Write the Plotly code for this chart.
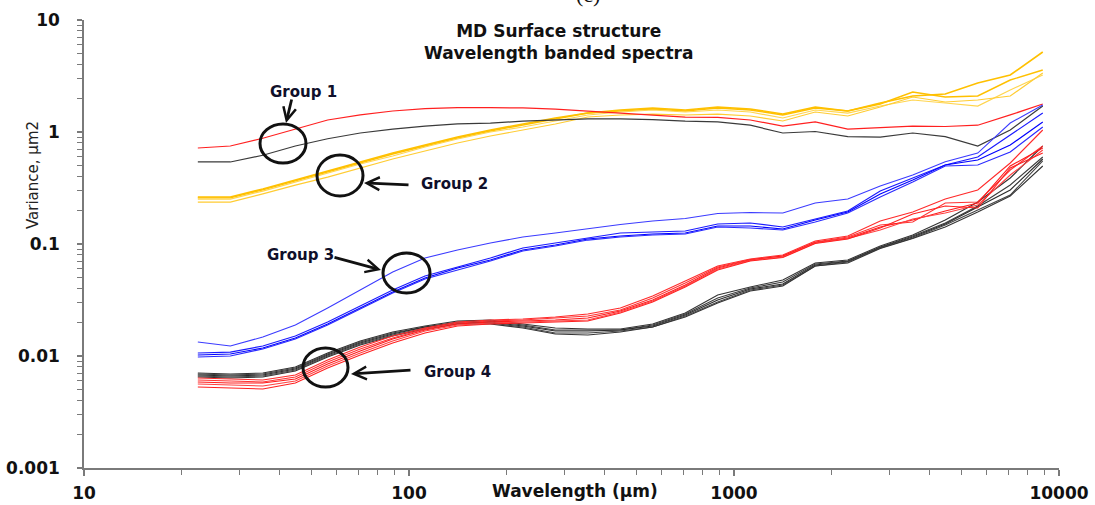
import plotly.graph_objects as go

# ---------------- data ----------------
wavelength = [22.4, 28.2, 35.5, 44.7, 56.2, 70.8, 89.1, 112, 141, 178, 224, 282, 355, 447,
              562, 708, 891, 1122, 1413, 1778, 2239, 2818, 3548, 4467, 5623, 7079, 8913]

g1_red = [0.72, 0.75, 0.88, 1.06, 1.28, 1.42, 1.54, 1.62, 1.65, 1.65, 1.64, 1.60, 1.54, 1.48,
          1.42, 1.36, 1.35, 1.28, 1.13, 1.23, 1.06, 1.09, 1.13, 1.12, 1.15, 1.42, 1.78]
g1_black = [0.54, 0.54, 0.62, 0.75, 0.87, 0.98, 1.06, 1.13, 1.18, 1.20, 1.25, 1.28, 1.31, 1.31,
            1.29, 1.25, 1.23, 1.15, 0.98, 1.01, 0.91, 0.90, 0.98, 0.91, 0.75, 1.04, 1.71]

g2_a = [0.263, 0.263, 0.310, 0.373, 0.449, 0.540, 0.649, 0.765, 0.902, 1.042, 1.179, 1.334, 1.477, 1.572,
        1.638, 1.572, 1.672, 1.605, 1.447, 1.672, 1.540, 1.815, 2.096, 2.184, 2.739, 3.228, 5.18]
g2_b = [0.258, 0.258, 0.304, 0.365, 0.439, 0.529, 0.636, 0.750, 0.884, 1.021, 1.155, 1.306, 1.477, 1.540,
        1.605, 1.540, 1.638, 1.572, 1.418, 1.638, 1.540, 1.778, 2.276, 2.054, 2.096, 2.912, 3.578]
g2_c = [0.252, 0.252, 0.297, 0.358, 0.430, 0.518, 0.611, 0.735, 0.866, 1.000, 1.108, 1.254, 1.418, 1.509,
        1.572, 1.509, 1.572, 1.509, 1.334, 1.572, 1.477, 1.706, 1.931, 1.815, 1.706, 2.371, 3.228]
g2_d = [0.237, 0.237, 0.280, 0.336, 0.396, 0.477, 0.574, 0.677, 0.798, 0.921, 1.042, 1.179, 1.361, 1.418,
        1.447, 1.418, 1.447, 1.390, 1.254, 1.509, 1.390, 1.672, 2.054, 1.853, 1.931, 2.096, 3.363]

g3_u = [0.01334, 0.01228, 0.01477, 0.01891, 0.02683, 0.03885, 0.05623, 0.07499, 0.08842, 0.1021, 0.1155,
        0.1254, 0.1375, 0.1493, 0.1605, 0.1689, 0.1872, 0.1911, 0.1891, 0.2323, 0.2522, 0.3295, 0.4130,
        0.543, 0.649, 1.203, 1.742]
g3_l1 = [0.01064, 0.01085, 0.01228, 0.01509, 0.02011, 0.02795, 0.03885, 0.05179, 0.06231, 0.07499, 0.09211,
         0.1021, 0.1131, 0.1254, 0.1280, 0.1306, 0.1509, 0.1540, 0.1418, 0.1672, 0.1971, 0.2972, 0.3885,
         0.5074, 0.5980, 0.9402, 1.477]
g3_l2 = [0.01021, 0.01042, 0.01179, 0.01448, 0.01931, 0.02683, 0.03728, 0.04970, 0.06105, 0.07197, 0.08842,
         0.0980, 0.1108, 0.1179, 0.1228, 0.1254, 0.1448, 0.1448, 0.1361, 0.1638, 0.1931, 0.2795, 0.3728,
         0.5074, 0.5623, 0.7655, 1.228]
g3_l3 = [0.0098, 0.0100, 0.01155, 0.01418, 0.01891, 0.02628, 0.03652, 0.04870, 0.05857, 0.07051, 0.08660,
         0.0960, 0.1085, 0.1155, 0.1203, 0.1228, 0.1418, 0.1389, 0.1334, 0.1572, 0.1891, 0.2628, 0.3577,
         0.4970, 0.5074, 0.6627, 1.108]

g4_red1 = [0.00636, 0.00623, 0.00611, 0.00677, 0.00921, 0.01203, 0.01509, 0.01778, 0.02011, 0.02096, 0.02140,
           0.02229, 0.02371, 0.02683, 0.03433, 0.04673, 0.06362, 0.07345, 0.07977, 0.1064, 0.1179, 0.1605,
           0.1931, 0.2522, 0.3035, 0.529, 1.042]
g4_red2 = [0.00611, 0.00598, 0.00586, 0.00649, 0.00884, 0.01155, 0.01448, 0.01742, 0.01971, 0.02054, 0.02096,
           0.02184, 0.02276, 0.02575, 0.03295, 0.04485, 0.06231, 0.07270, 0.07812, 0.1042, 0.1155, 0.1477,
           0.1572, 0.2323, 0.2371, 0.4578, 0.750]
g4_red3 = [0.00586, 0.00574, 0.00574, 0.00623, 0.00848, 0.01108, 0.01418, 0.01707, 0.01931, 0.02011, 0.02054,
           0.02096, 0.02184, 0.02522, 0.03162, 0.04304, 0.06105, 0.07197, 0.07812, 0.1031, 0.1131, 0.1418,
           0.1638, 0.1971, 0.2323, 0.497, 0.720]
g4_red4 = [0.00562, 0.00551, 0.00540, 0.00598, 0.00814, 0.01064, 0.01361, 0.01672, 0.01891, 0.01971, 0.02011,
           0.02054, 0.02096, 0.02471, 0.03098, 0.04217, 0.05980, 0.07124, 0.07655, 0.1021, 0.1119, 0.1334,
           0.1672, 0.1891, 0.2229, 0.413, 0.691]
g4_red5 = [0.00529, 0.00518, 0.00507, 0.00574, 0.00781, 0.01021, 0.01306, 0.01605, 0.01853, 0.01931, 0.01971,
           0.02011, 0.02054, 0.02420, 0.03035, 0.04130, 0.05857, 0.07051, 0.07576, 0.1010, 0.1108, 0.1389,
           0.1853, 0.2184, 0.2096, 0.477, 0.649]

g4_blk1 = [0.00705, 0.00691, 0.00705, 0.00798, 0.01064, 0.01361, 0.01638, 0.01853, 0.02054, 0.02096, 0.01931,
           0.01778, 0.01742, 0.01742, 0.01931, 0.02420, 0.03504, 0.04130, 0.04771, 0.06767, 0.07197, 0.0960,
           0.1203, 0.1638, 0.2371, 0.3885, 0.750]
g4_blk2 = [0.00691, 0.00677, 0.00691, 0.00781, 0.01042, 0.01334, 0.01605, 0.01815, 0.02011, 0.02054, 0.01891,
           0.01707, 0.01707, 0.01707, 0.01891, 0.02371, 0.03295, 0.04046, 0.04578, 0.06629, 0.07051, 0.09402,
           0.1179, 0.1540, 0.2184, 0.3363, 0.598]
g4_blk3 = [0.00677, 0.00663, 0.00677, 0.00766, 0.01021, 0.01306, 0.01572, 0.01815, 0.01971, 0.02011, 0.01853,
           0.01672, 0.01672, 0.01707, 0.01853, 0.02323, 0.03162, 0.03963, 0.04394, 0.06494, 0.06980, 0.09306,
           0.1155, 0.1509, 0.2140, 0.3035, 0.574]
g4_blk4 = [0.00663, 0.00649, 0.00663, 0.00750, 0.0100, 0.01280, 0.01540, 0.01778, 0.01971, 0.01971, 0.01815,
           0.01605, 0.01605, 0.01672, 0.01815, 0.02276, 0.03035, 0.03885, 0.04304, 0.06362, 0.06907, 0.09211,
           0.1131, 0.1477, 0.2011, 0.2738, 0.551]
g4_blk5 = [0.00649, 0.00636, 0.00649, 0.00735, 0.0098, 0.01254, 0.01509, 0.01742, 0.01931, 0.01931, 0.01778,
           0.01572, 0.01540, 0.01638, 0.01815, 0.02229, 0.02972, 0.03805, 0.04217, 0.06362, 0.06767, 0.09119,
           0.1119, 0.1418, 0.1931, 0.2683, 0.497]

x_tick_vals = [10, 100, 1000, 10000]
x_tick_text = ["10", "100", "1000", "10000"]
y_tick_vals = [0.001, 0.01, 0.1, 1, 10]
y_tick_text = ["0.001", "0.01", "0.1", "1", "10"]

group_labels = ["Group 1", "Group 2", "Group 3", "Group 4"]
title_text = "MD Surface structure<br>Wavelength banded spectra"
x_title = "Wavelength (µm)"
y_title = "Variance, µm2"

# ---------------- figure ----------------
W, H = 1095, 505
ML, MR, MT, MB = 84, 36, 20, 37
PW, PH = W - ML - MR, H - MT - MB


def px(x):
    return (x - ML) / PW


def py(y):
    return (H - MB - y) / PH


fig = go.Figure()

series = [
    (g2_a, "#FFC000", 1.6), (g2_b, "#FFC000", 1.4), (g2_c, "#FFD54F", 1.2), (g2_d, "#FFCC33", 1.2),
    (g1_black, "#3a3a3a", 1.2), (g1_red, "#FF2020", 1.2),
    (g3_u, "#3b3bff", 1.1), (g3_l1, "#1a1aff", 1.2), (g3_l2, "#0000ff", 1.2), (g3_l3, "#2a2aff", 1.2),
    (g4_blk1, "#333333", 1.1), (g4_blk2, "#3d3d3d", 1.1), (g4_blk3, "#2a2a2a", 1.1),
    (g4_blk4, "#444444", 1.1), (g4_blk5, "#333333", 1.1),
    (g4_red1, "#ff2a2a", 1.1), (g4_red2, "#ff3333", 1.1), (g4_red3, "#ff1a1a", 1.1),
    (g4_red4, "#ff4040", 1.1), (g4_red5, "#ff2020", 1.1),
]
for ys, col, w in series:
    fig.add_trace(go.Scatter(x=wavelength, y=ys, mode="lines",
                             line=dict(color=col, width=w), hoverinfo="skip"))

minor_x = [m * d for d in (10, 100, 1000) for m in range(2, 10)]
minor_y = [m * d for d in (0.001, 0.01, 0.1, 1) for m in range(2, 10)]

axis_col = "#7a7a7a"
tick_font = dict(family="DejaVu Sans", size=17, color="#111111", weight="bold")

fig.update_xaxes(type="log", range=[1, 4], tickvals=x_tick_vals, ticktext=x_tick_text,
                 ticks="outside", ticklen=6, tickwidth=1.5, tickcolor=axis_col,
                 showline=True, linecolor=axis_col, linewidth=1.5, mirror=False,
                 showgrid=False, zeroline=False, tickfont=tick_font, ticklabelstandoff=3,
                 minor=dict(tickvals=minor_x, ticks="outside", ticklen=5, tickwidth=1.2,
                            tickcolor=axis_col, showgrid=False))
fig.update_yaxes(type="log", range=[-3, 1], tickvals=y_tick_vals, ticktext=y_tick_text,
                 ticks="outside", ticklen=5, tickwidth=1.5, tickcolor=axis_col,
                 showline=True, linecolor=axis_col, linewidth=1.5, mirror=False,
                 showgrid=False, zeroline=False, tickfont=tick_font, ticklabelstandoff=14,
                 minor=dict(tickvals=minor_y, ticks="outside", ticklen=5, tickwidth=1.2,
                            tickcolor=axis_col, showgrid=False))

C = dict(xref="paper", yref="paper", xanchor="center", yanchor="middle", showarrow=False)
annotations = [
    dict(text=title_text, x=px(558), y=py(42),
         font=dict(family="DejaVu Sans", size=17, color="#111111", weight="bold"), align="center", **C),
    dict(text="(c)", x=px(588), y=py(-6),
         font=dict(family="Liberation Serif", size=22, color="#111111"), **C),
    dict(text=x_title, x=px(575), y=py(491),
         font=dict(family="DejaVu Sans", size=17, color="#111111", weight="bold"), **C),
    dict(text=y_title, x=px(33), y=py(175), textangle=-90,
         font=dict(family="DejaVu Sans", size=15, color="#222222"), **C),
]

label_pos = [(303, 92), (454, 184), (300, 255), (457, 372)]
lab_font = dict(family="DejaVu Sans", size=15, color="#10102a", weight="bold")
for txt, (lx, ly) in zip(group_labels, label_pos):
    annotations.append(dict(text=txt, x=px(lx), y=py(ly), font=lab_font, **C))

# arrows: head position, tail offset (pixels)
arrows = [((286, 123), (6, -25)), ((364, 183), (46, 2)), ((381, 270), (-48, -13)), ((351, 374), (61, -4))]
for (hx, hy), (ax, ay) in arrows:
    annotations.append(dict(text="", x=px(hx), y=py(hy), xref="paper", yref="paper",
                            showarrow=True, ax=ax, ay=ay, arrowhead=5, arrowsize=0.9,
                            arrowwidth=2.8, arrowcolor="#111111", standoff=0))

circles = [(260, 124, 306, 163), (317, 155, 363, 196), (383, 253, 430, 293), (303, 348, 348, 387)]
shapes = [dict(type="circle", xref="paper", yref="paper", x0=px(a), x1=px(c), y0=py(d), y1=py(b),
               line=dict(color="#111111", width=3)) for a, b, c, d in circles]

fig.update_layout(width=W, height=H, margin=dict(l=ML, r=MR, t=MT, b=MB, autoexpand=False),
                  plot_bgcolor="white", paper_bgcolor="white", showlegend=False,
                  annotations=annotations, shapes=shapes)

fig.write_html("out.html", config={"displayModeBar": False},
               post_script="document.body.style.margin='0';document.body.style.overflow='hidden';")
